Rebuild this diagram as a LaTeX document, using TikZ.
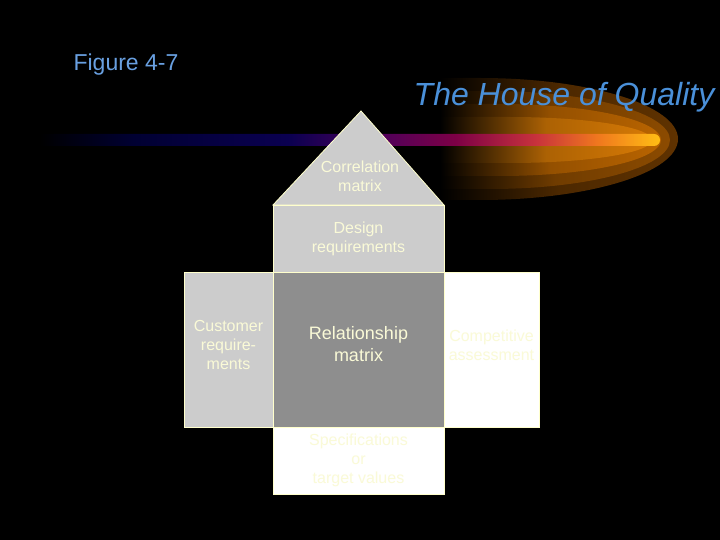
\documentclass[tikz,border=0pt]{standalone}
\usepackage{fontspec}
\setmainfont{Liberation Sans}
\usepackage{tikz}

\definecolor{lightbox}{RGB}{204,204,204}
\definecolor{darkbox}{RGB}{142,142,142}
\definecolor{houseline}{RGB}{255,255,204}
\definecolor{housetext}{RGB}{250,250,215}
\definecolor{titleblue}{RGB}{74,144,217}
\definecolor{figblue}{RGB}{105,160,225}
\definecolor{glowA}{RGB}{95,50,0}
\definecolor{glowB}{RGB}{140,75,0}
\definecolor{glowC}{RGB}{185,100,0}
\definecolor{glowD}{RGB}{215,122,5}
\definecolor{barA}{RGB}{0,0,50}
\definecolor{barB}{RGB}{10,0,80}
\definecolor{barC}{RGB}{80,0,90}
\definecolor{barD}{RGB}{125,0,70}
\definecolor{barE}{RGB}{200,50,60}
\definecolor{barF}{RGB}{240,120,30}
\definecolor{barG}{RGB}{255,190,20}

\pgfdeclarehorizontalshading{barshade}{100bp}{color(0bp)=(black); color(25bp)=(black);
  color(32.5bp)=(barA); color(45bp)=(barB); color(52.5bp)=(barC); color(58.5bp)=(barD);
  color(65bp)=(barE); color(70bp)=(barF); color(75bp)=(barG); color(100bp)=(barG)}

\tikzset{
  housebox/.style={draw=houseline, line width=0.8pt, align=center, text=housetext,
    inner sep=0pt, font=\fontsize{16}{19}\selectfont},
  housetxt/.style={align=center, text=housetext, font=\fontsize{16}{19}\selectfont},
  glow/.style={left color=black, right color=#1, middle color=#1!80!black}
}

\begin{document}
\begin{tikzpicture}[x=1pt, y=-1pt]

    \fill[black] (0,0) rectangle (720,540);
    \useasboundingbox (0,0) rectangle (720,540);

    \shade[glow=glowA] (440,78) -- (480,78) arc[start angle=-90, end angle=90, x radius=198, y radius=61] -- (440,200) -- cycle;
    \shade[glow=glowB] (440,91) -- (490,91) arc[start angle=-90, end angle=90, x radius=180, y radius=49] -- (440,189) -- cycle;
    \shade[glow=glowC] (440,104) -- (500,104) arc[start angle=-90, end angle=90, x radius=161, y radius=36] -- (440,176) -- cycle;
    \shade[glow=glowD] (440,117) -- (510,117) arc[start angle=-90, end angle=90, x radius=142, y radius=23] -- (440,163) -- cycle;

    \shade[shading=barshade] (40,134) -- (654,134) arc[start angle=-90, end angle=90, radius=6] -- (40,146) -- cycle;

    \node[font=\fontsize{23}{27}\selectfont, text=figblue] (fig) at (126,65) {Figure 4-7};
    \node[font=\fontsize{32}{38}\selectfont\itshape, text=titleblue] (title) at (564,97) {The House of Quality};

    \filldraw[draw=houseline, fill=lightbox, line width=0.8pt] (273,205) -- (361,111) -- (444,205) -- cycle;
    \node[housetxt] (corr) at (360,176) {Correlation\\matrix};

    \node[housebox, fill=lightbox, minimum width=171pt, minimum height=67pt] (design) at (358.5,238.5) {Design\\requirements};
    \node[housebox, fill=darkbox, minimum width=171pt, minimum height=155pt] (relation) at (358.5,349.5) {};
    \node[housebox, fill=lightbox, minimum width=89pt, minimum height=155pt] (customer) at (228.5,349.5) {};
    \node[housebox, fill=white, minimum width=95pt, minimum height=155pt] (compet) at (491.5,349.5) {};
    \node[housebox, fill=white, minimum width=171pt, minimum height=67pt] (spec) at (358.5,460.5) {Specifications\\or\\target values};

    \node[housetxt, font=\fontsize{18}{22}\selectfont, yshift=5pt] (relationtxt) at (relation.center) {Relationship\\matrix};
    \node[housetxt, yshift=5pt] (customertxt) at (customer.center) {Customer\\require-\\ments};
    \node[housetxt, yshift=4pt] (compettxt) at (compet.center) {Competitive\\assessment};

\end{tikzpicture}
\end{document}
